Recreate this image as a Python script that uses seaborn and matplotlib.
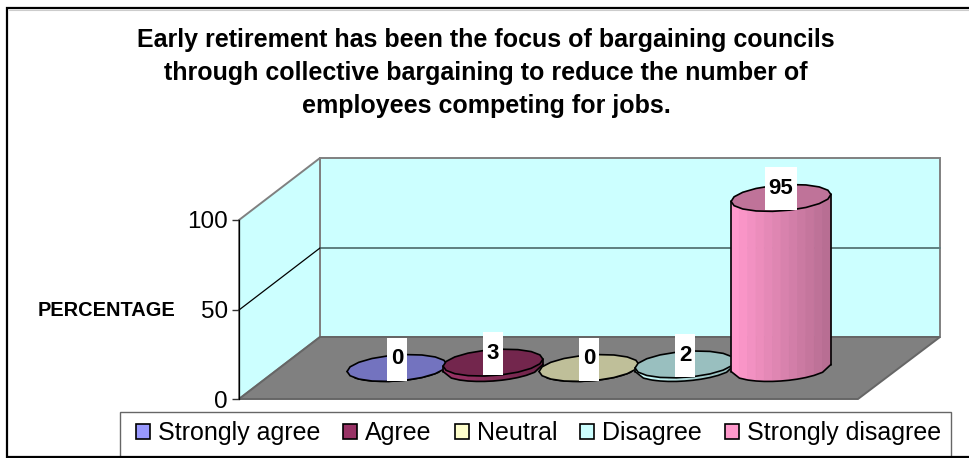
import numpy as np
import pandas as pd
import matplotlib
matplotlib.use("Agg")
import matplotlib.pyplot as plt
import seaborn as sns
from matplotlib.patches import Polygon, Rectangle
from matplotlib.colors import to_rgb

categories = ["Strongly agree", "Agree", "Neutral", "Disagree", "Strongly disagree"]
values = [0, 3, 0, 2, 95]
colors = ["#9999FF", "#993366", "#FFFFCC", "#CCFFFF", "#FF99CC"]
ticks = [0, 50, 100]
title = ("Early retirement has been the focus of bargaining councils\n"
         "through collective bargaining to reduce the number of\n"
         "employees competing for jobs.")

W, H = 970, 458
sns.set_style("white")
plt.rcParams["font.family"] = ["Liberation Sans", "DejaVu Sans"]
plt.rcParams["text.color"] = "black"
plt.rcParams["ytick.color"] = "black"

df = pd.DataFrame({"pos": range(5), "answer": categories, "value": values})

fig = plt.figure(figsize=(W / 100, H / 100), dpi=100, facecolor="white")

# background in pixels: frame, walls and floor of the fake 3d box
bg = fig.add_axes([0, 0, 1, 1])
bg.set_xlim(0, W)
bg.set_ylim(H, 0)
bg.axis("off")
bg.plot([W, 7, 7, W], [8, 8, 457, 457], color="black", lw=1.6, solid_joinstyle="miter")
bg.plot([9, W], [10, 10], color="#cccccc", lw=0.8)
wall = "#CCFFFF"
edge = "#808080"
bg.add_patch(Polygon([(320, 158), (940, 158), (940, 337), (320, 337)], fc=wall, ec=edge, lw=1.4))
bg.add_patch(Polygon([(239, 220), (320, 158), (320, 337), (239, 399)], fc=wall, ec=edge, lw=1.4))
bg.add_patch(Polygon([(239, 399), (320, 337), (940, 337), (858, 399)], fc="#808080", ec="#666666", lw=1.4))
bg.plot([320, 940], [248, 248], color="#5f7f7f", lw=1.4)
bg.plot([239, 320], [310, 248], color="black", lw=0.9)
bg.add_patch(Rectangle((120, 412), 831, 45, fc="white", ec="#666666", lw=1))

# value axis sits on the front left edge, bars stand further back on the floor
left, right, bottom, top = 239, 858, 399, 220
ax = fig.add_axes([left / W, 1 - bottom / H, (right - left) / W, (bottom - top) / H])
ax.patch.set_alpha(0)
px_x = 96.0
px_y = (bottom - top) / 100
base = (bottom - 368) / px_y

sns.barplot(data=df, x="pos", y="value", hue="answer", hue_order=categories,
            palette=colors, dodge=False, native_scale=True, width=1.04,
            bottom=base, legend=False, ax=ax, edgecolor="none")
ax.set_xlim((left - 397) / px_x, (right - 397) / px_x)
ax.set_ylim(0, 100)

bars = [c[0] for c in ax.containers]
b = 13 / px_y
tilt = 3.5 / px_y


def ellipse(cx, cy, a, n=18):
    t = np.linspace(0, 2 * np.pi, n, endpoint=False)
    return np.c_[cx + a * np.cos(t), cy + b * np.sin(t) + tilt * np.cos(t)]


for bar, val, col in zip(bars, values, colors):
    a = bar.get_width() / 2
    cx = bar.get_x() + a
    y0 = bar.get_y()
    y1 = y0 + val
    rgb = np.array(to_rgb(col))
    z = 3 + val
    bar.set_visible(False)

    # body is cut in strips, getting darker to the right
    edges = np.linspace(-1, 1, 13)
    for j in range(12):
        u = np.array([edges[j], edges[j + 1]])
        low = y0 - b * np.sqrt(1 - u ** 2) + tilt * u
        high = y1 + tilt * u
        shade = 1 - 0.28 * j / 11
        ax.fill([cx + a * u[0], cx + a * u[1], cx + a * u[1], cx + a * u[0]],
                [low[0], low[1], high[1], high[0]],
                color=rgb * shade, lw=0.6, zorder=z, clip_on=False)
    u = np.linspace(-1, 1, 13)
    ax.plot(cx + a * u, y0 - b * np.sqrt(1 - u ** 2) + tilt * u, color="black", lw=1.2,
            zorder=z + 0.1, clip_on=False)
    ax.plot([cx - a, cx - a], [y0 - tilt, y1 - tilt], color="black", lw=1.2,
            zorder=z + 0.1, clip_on=False)
    ax.plot([cx + a, cx + a], [y0 + tilt, y1 + tilt], color="black", lw=1.2,
            zorder=z + 0.1, clip_on=False)
    ax.add_patch(Polygon(ellipse(cx, y1, a), fc=rgb * 0.75, ec="black", lw=1.2,
                         zorder=z + 0.2, clip_on=False))

    # white label box above the top face
    ly = y1 + 9 / px_y
    bw = (32 if val >= 10 else 20) / px_x
    bh = 43 / px_y
    ax.add_patch(Rectangle((cx - bw / 2, ly - bh / 2), bw, bh, fc="white", ec="none",
                           zorder=200, clip_on=False))
    ax.text(cx, ly, str(val), ha="center", va="center", fontsize=16, fontweight="bold",
            zorder=201, clip_on=False)

ax.set_xticks([])
ax.set_yticks(ticks)
ax.tick_params(axis="y", labelsize=17.5, length=5, width=1, left=True, pad=3, color="#333333")
ax.set_xlabel("")
ax.set_ylabel("")
sns.despine(ax=ax, bottom=True)
ax.spines["left"].set_color("black")
ax.spines["left"].set_linewidth(0.9)

fig.text(486 / W, 1 - 73 / H, title, ha="center", va="center", fontsize=18,
         fontweight="bold", linespacing=1.485)
fig.text(107 / W, 1 - 310 / H, "PERCENTAGE", ha="center", va="center", fontsize=14.4,
         fontweight="bold")

handles = [Rectangle((0, 0), 1, 1, fc=c, ec="black", lw=1.2) for c in colors]
leg = fig.legend(handles, categories, ncol=5, loc="lower left",
                 bbox_to_anchor=(136 / W, 1 - 445 / H, 805 / W, 25 / H), mode="expand",
                 fontsize=18, frameon=False, handlelength=0.56, handleheight=0.56,
                 handletextpad=0.32, columnspacing=0.9, borderaxespad=0, borderpad=0)

fig.savefig("out.png", dpi=100)
